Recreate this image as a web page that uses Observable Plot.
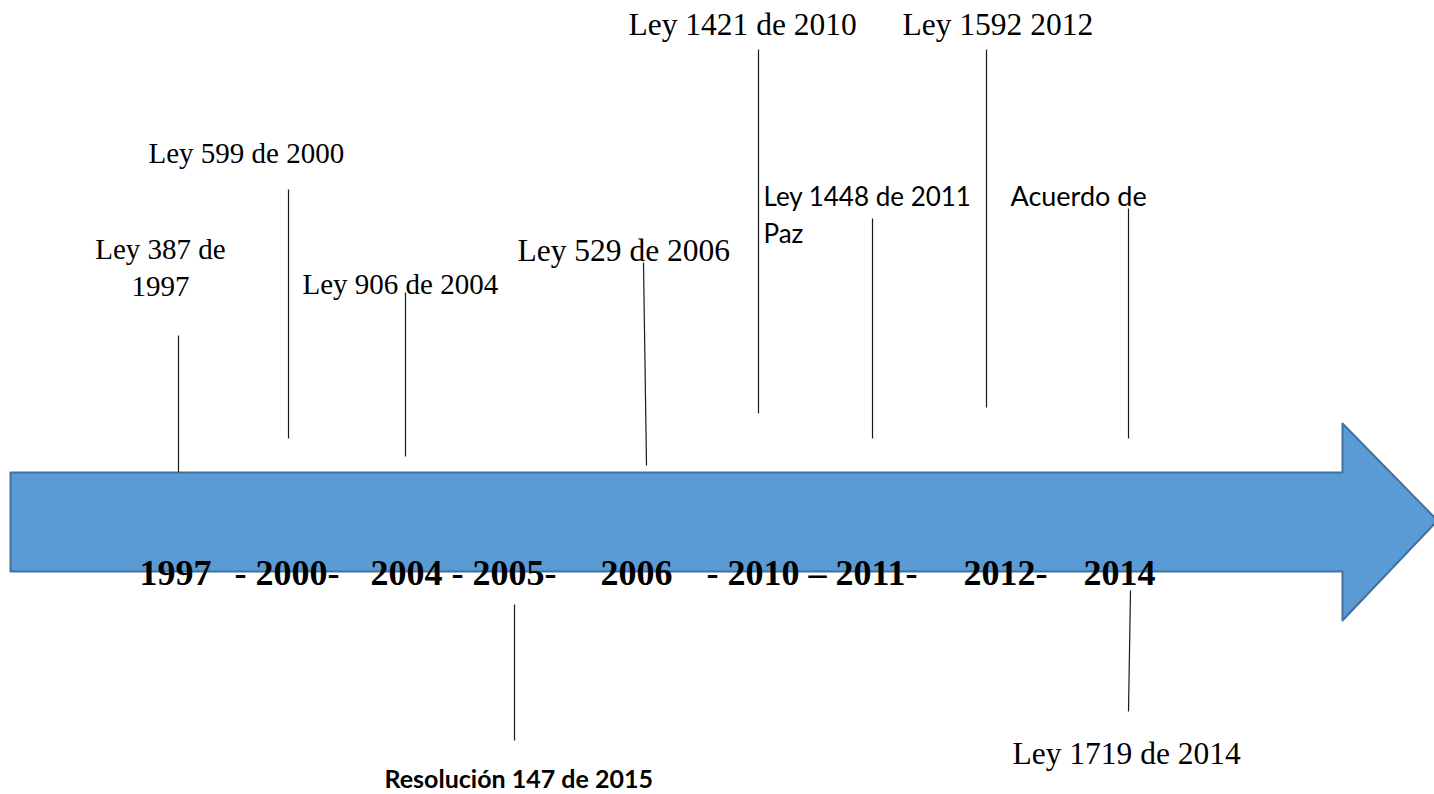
<!DOCTYPE html>
<html>
<head>
<meta charset="utf-8">
<script src="https://cdn.jsdelivr.net/npm/d3@7"></script>
<script src="https://cdn.jsdelivr.net/npm/@observablehq/plot@0.6"></script>
<style>
  html, body { margin: 0; padding: 0; background: #fff; }
  #chart svg { display: block; }
</style>
</head>
<body>
<div id="chart"></div>
<script>
// ---- Data ----
const years = ["1997", "2000", "2004", "2005", "2006", "2010", "2011", "2012", "2014"];
const yearLabels = ["1997", "- 2000-", "2004 - 2005-", "2006", "- 2010 \u2013 2011-", "2012-", "2014"];
const lawLabels = [
  "Ley 387 de\n1997",
  "Ley 599 de 2000",
  "Ley 906 de 2004",
  "Resolución 147 de 2015",
  "Ley 529 de 2006",
  "Ley 1421 de 2010",
  "Ley 1448 de 2011\nPaz",
  "Ley 1592 2012",
  "Acuerdo de",
  "Ley 1719 de 2014"
];

// ---- Layout (pixel positions of the diagram) ----
const W = 1434, H = 794;
const arrowX = [10, 1342, 1342, 1437, 1342, 1342, 10];
const arrowY = [472, 472, 423, 520, 620, 571, 571];
const yearLabelX = [139, 234, 370, 600, 706, 963, 1083];
const yearBaseline = 584;

const labelX = [160, 148, 302, 384, 517, 628, 763, 902, 1010, 1012];
const labelY = [295, 162, 293, 787, 260, 34, 242, 34, 205, 763];
const labelAnchor = ["middle", "start", "start", "start", "start", "start", "start", "start", "start", "start"];
const labelFont = ["serif", "serif", "serif", "sansb", "serif", "serif", "sans", "serif", "sans", "serif"];
const labelSize = [29, 29, 29, 25, 31.5, 31.5, 26, 31.5, 27, 31.5];

const stalkX1 = [178, 288, 405, 514, 643, 758, 872, 986, 1128, 1130];
const stalkY1 = [335, 189, 292, 604, 262, 49, 218, 49, 208, 590];
const stalkX2 = [178, 288, 405, 514, 646, 758, 872, 986, 1128, 1128];
const stalkY2 = [472, 438, 456, 740, 465, 413, 438, 407, 438, 711];

// ---- Tables built from the arrays ----
const arrow = arrowX.map((x, i) => ({x, y: arrowY[i]}));
const yearTbl = yearLabels.map((t, i) => ({t, x: yearLabelX[i], y: yearBaseline}));
const lawTbl = lawLabels.map((t, i) => ({
  t, x: labelX[i], y: labelY[i], anchor: labelAnchor[i], font: labelFont[i], size: labelSize[i]
}));
const stalks = lawLabels.map((t, i) => ({x1: stalkX1[i], y1: stalkY1[i], x2: stalkX2[i], y2: stalkY2[i]}));

const SERIF = "'Liberation Serif', 'Times New Roman', serif";
const SANS = "Lato, 'Open Sans', sans-serif";

function lawText(filterFn, opts) {
  const rows = lawTbl.filter(filterFn);
  const groups = d3.groups(rows, d => d.anchor + "|" + d.size);
  return groups.map(([k, rs]) => Plot.text(rs, {
    x: "x", y: "y", text: "t",
    textAnchor: rs[0].anchor,
    fontSize: rs[0].size,
    lineAnchor: "bottom",
    fill: "#000",
    ...opts
  }));
}

const chart = Plot.plot({
  width: W,
  height: H,
  margin: 0,
  x: {domain: [0, W], range: [0, W], axis: null},
  y: {domain: [0, H], range: [0, H], axis: null},
  marks: [
    Plot.line(arrow, {x: "x", y: "y", curve: "linear-closed", fill: "#5B9BD5", stroke: "#41719C", strokeWidth: 2}),
    ...lawText(d => d.font === "serif", {fontFamily: SERIF, lineHeight: 37 / 29}),
    ...lawText(d => d.font === "sans", {fontFamily: SANS, lineHeight: 37 / 26}),
    ...lawText(d => d.font === "sansb", {fontFamily: SANS, fontWeight: "bold"}),
    Plot.link(stalks, {x1: "x1", y1: "y1", x2: "x2", y2: "y2", stroke: "#1a1a1a", strokeWidth: 1.2}),
    Plot.text(yearTbl, {x: "x", y: "y", text: "t", textAnchor: "start", lineAnchor: "bottom",
      fontFamily: SERIF, fontWeight: "bold", fontSize: 36, fill: "#000"})
  ]
});
chart.setAttribute("font-family", SERIF);
document.getElementById("chart").appendChild(chart);
</script>
</body>
</html>
